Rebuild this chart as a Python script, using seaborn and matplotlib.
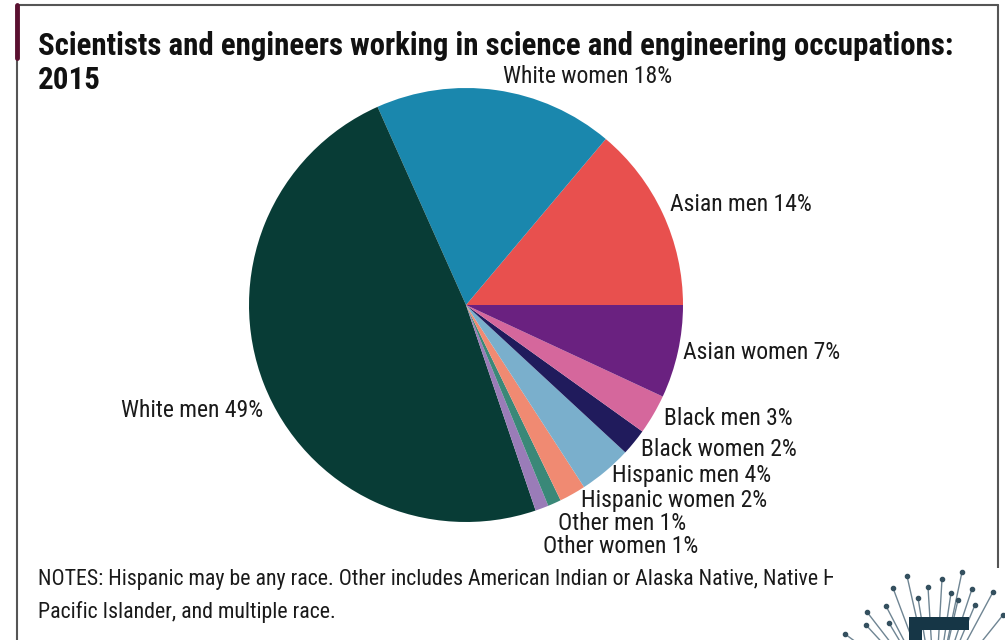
import matplotlib
matplotlib.use("Agg")
import matplotlib.pyplot as plt
import seaborn as sns
from matplotlib import font_manager
from matplotlib.lines import Line2D
from matplotlib.patches import Rectangle

# ---- data ----
groups = ["Asian men", "White women", "White men", "Other women", "Other men",
          "Hispanic women", "Hispanic men", "Black women", "Black men", "Asian women"]
shares = [14, 18, 49, 1, 1, 2, 4, 2, 3, 7]
title_line1 = "Scientists and engineers working in science and engineering occupations:"
title_line2 = "2015"
notes_line1 = "NOTES: Hispanic may be any race. Other includes American Indian or Alaska Native, Native Hawaiian or Other"
notes_line2 = "Pacific Islander, and multiple race."

# ---- styles ----
colors = ["#e8504e", "#1a87ad", "#083c36", "#9a7cb8", "#3a8878",
          "#f08a72", "#7aafcc", "#201b5c", "#d5679c", "#6a2180"]
label_pos = {
    "White women": (0.558, 1.055, "center"),
    "Asian men": (0.94, 0.461, "left"),
    "Asian women": (1.00, -0.217, "left"),
    "Black men": (0.912, -0.521, "left"),
    "Black women": (0.806, -0.664, "left"),
    "Hispanic men": (0.673, -0.788, "left"),
    "Hispanic women": (0.530, -0.903, "left"),
    "Other men": (0.424, -1.009, "left"),
    "Other women": (0.355, -1.111, "left"),
    "White men": (-0.935, -0.484, "right"),
}

sns.set_theme(style="white")
available = {f.name for f in font_manager.fontManager.ttflist}
pref = ["Liberation Sans Narrow", "DejaVu Sans Condensed", "Roboto Condensed",
        "Open Sans Condensed", "Liberation Sans", "Roboto", "DejaVu Sans"]
main_font = next(f for f in pref if f in available)
plt.rcParams["font.family"] = [main_font, "DejaVu Sans"]

W, H = 1005, 640
fig = plt.figure(figsize=(W / 100, H / 100), dpi=100)
fig.patch.set_facecolor("white")
renderer = fig.canvas.get_renderer()


def fit_width(t, target_px):
    for _ in range(3):
        w = t.get_window_extent(renderer=renderer).width
        t.set_fontsize(t.get_fontsize() * target_px / w)


cx, cy, r = 466, 305, 217
ax = fig.add_axes([(cx - r) / W, (H - cy - r) / H, 2 * r / W, 2 * r / H])
ax.pie(shares, colors=colors, startangle=0, counterclock=True,
       wedgeprops=dict(linewidth=0))
ax.set_xlim(-1, 1)
ax.set_ylim(-1, 1)
ax.set_aspect("equal")
ax.axis("off")

label_objs = []
for g, v in zip(groups, shares):
    x, y, ha = label_pos[g]
    t = ax.text(x, y, f"{g} {v}%", ha=ha, va="center", fontsize=13,
                color="#1a1a1a", clip_on=False)
    label_objs.append((g, t))
# scale label size so "Asian men 14%" spans ~141 px like the reference
ref = dict(label_objs)["Asian men"]
w0 = ref.get_window_extent(renderer=renderer).width
scale = 141 / w0
for g, t in label_objs:
    t.set_fontsize(t.get_fontsize() * scale)

# title
t1 = fig.text(38 / W, 1 - 46 / H, title_line1, ha="left", va="center",
              fontsize=18, fontweight="bold", color="#111111")
fit_width(t1, 912)
fig.text(38 / W, 1 - 80 / H, title_line2, ha="left", va="center",
         fontsize=t1.get_fontsize(), fontweight="bold", color="#111111")

n2 = fig.text(38 / W, 1 - 612 / H, notes_line2, ha="left", va="center",
              fontsize=12.5, color="#1a1a1a")
fit_width(n2, 297)
fig.text(38 / W, 1 - 580 / H, notes_line1, ha="left", va="center",
         fontsize=n2.get_fontsize(), color="#1a1a1a")


def px(x, y):
    return x / W, 1 - y / H


# frame of the source screenshot
frame_c = "#555555"
fig.add_artist(Line2D([px(17, 0)[0], px(998, 0)[0]], [px(0, 5)[1]] * 2, color=frame_c, lw=1.5))
fig.add_artist(Line2D([px(17, 0)[0]] * 2, [px(0, 5)[1], px(0, 640)[1]], color=frame_c, lw=1.5))
fig.add_artist(Line2D([px(998, 0)[0]] * 2, [px(0, 5)[1], px(0, 568)[1]], color=frame_c, lw=1.5))
fig.add_artist(Line2D([px(17, 0)[0]] * 2, [px(0, 5)[1], px(0, 58)[1]], color="#5a1030", lw=3.5))

# logo corner (decoration)
fig.add_artist(Rectangle(px(833, 640), (W - 833) / W, (640 - 568) / H,
                         transform=fig.transFigure, facecolor="white",
                         edgecolor="none", zorder=10))
origin = (935, 700)
tips = [(907, 576), (942, 579), (962, 572), (893, 588), (928, 587), (951, 593),
        (972, 589), (993, 592), (886, 606), (975, 605), (867, 612), (889, 623),
        (866, 625), (845, 634), (918, 598), (958, 600), (1003, 615)]
for tx, ty in tips:
    x0, y0 = px(*origin)
    x1, y1 = px(tx, ty)
    fig.add_artist(Line2D([x0, x1], [y0, y1], color="#6f8593", lw=1.0, zorder=11))
    fig.add_artist(Line2D([x1], [y1], marker="o", ms=3, color="#34505f", lw=0, zorder=12))
fig.add_artist(Rectangle(px(909, 630), (969 - 909) / W, 13 / H,
                         transform=fig.transFigure, facecolor="#163646",
                         edgecolor="none", zorder=13))
fig.add_artist(Rectangle(px(909, 641), (922 - 909) / W, 12 / H,
                         transform=fig.transFigure, facecolor="#163646",
                         edgecolor="none", zorder=13))

fig.savefig("out.png", dpi=100, facecolor="white")
